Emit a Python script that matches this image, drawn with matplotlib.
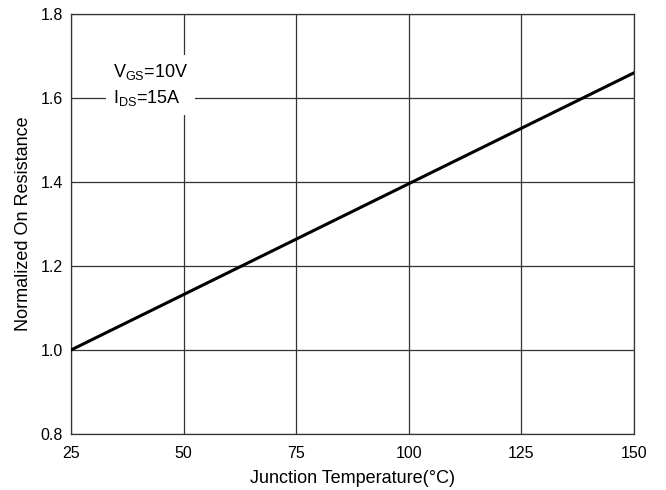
import numpy as np
import matplotlib
matplotlib.use("Agg")
from matplotlib import pyplot as plt

plt.rcParams['font.family'] = ['Liberation Sans', 'DejaVu Sans']

# Data
temperature = [25, 150]
resistance = [1.0, 1.66]
x_ticks = [25, 50, 75, 100, 125, 150]
y_ticks = [0.8, 1.0, 1.2, 1.4, 1.6, 1.8]

fig = plt.figure(figsize=(6.66, 4.9), dpi=100)
ax = fig.add_axes([0.1066, 0.1143, 0.8454, 0.8571])

ax.plot(temperature, resistance, color='black', linewidth=2.2, zorder=3)

ax.set_xlim(25, 150)
ax.set_ylim(0.8, 1.8)
ax.set_xticks(x_ticks)
ax.set_yticks(y_ticks)
ax.set_yticklabels([f"{v:.1f}" for v in y_ticks])
ax.tick_params(labelsize=11.5, length=0)
ax.tick_params(axis='x', pad=9)
ax.tick_params(axis='y', pad=6)
ax.grid(True, color='#333333', linewidth=0.9)
for s in ax.spines.values():
    s.set_linewidth(0.9)
    s.set_color('#333333')

ax.set_xlabel("Junction Temperature(°C)", fontsize=13, labelpad=6)
ax.set_ylabel("Normalized On Resistance", fontsize=13, labelpad=6)

ax.text(0.0746, 0.831, "V$_\\mathregular{GS}$=10V\nI$_\\mathregular{DS}$=15A", transform=ax.transAxes,
        fontsize=13, linespacing=1.45, va='center', ha='left', zorder=4,
        bbox=dict(facecolor='white', edgecolor='none', pad=5))

fig.savefig("out.png", dpi=100)
